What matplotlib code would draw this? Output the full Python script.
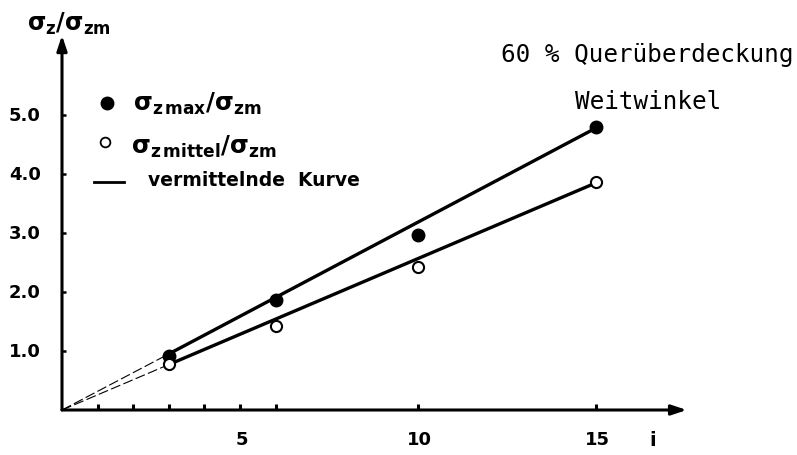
import numpy as np
import matplotlib
matplotlib.use("Agg")
import matplotlib.pyplot as plt

# measured points
i_pts = [3, 6, 10, 15]
ratio_max = [0.91, 1.87, 2.96, 4.80]
ratio_mittel = [0.78, 1.43, 2.43, 3.86]

# fitted lines (vermittelnde Kurve) at i = 0, 3, 15
i_fit = [0, 3, 15]
fit_max = [0.0, 0.95, 4.78]
fit_mittel = [0.0, 0.77, 3.85]

x_ticks = [1, 2, 3, 4, 5, 6, 10, 15]
x_labels = {5: "5", 10: "10", 15: "15"}
y_ticks = [1, 2, 3, 4, 5]
y_labels = ["1.0", "2.0", "3.0", "4.0", "5.0"]

plt.rcParams["mathtext.fontset"] = "dejavusans"

W, H = 797, 456
fig = plt.figure(figsize=(W / 100, H / 100), dpi=100)
x0, y0 = 62, 456 - 411          # origin in pixels
ux, uy = 35.6, 59.0             # pixels per unit
ax = fig.add_axes([x0 / W, y0 / H, (W - x0) / W, (H - y0) / H])
ax.set_xlim(0, (W - x0) / ux)
ax.set_ylim(0, (H - y0) / uy)
ax.axis("off")

lw = 2.2
# axes with arrows
ax.annotate("", xy=(17.55, 0), xytext=(0, 0),
            arrowprops=dict(arrowstyle="-|>,head_length=0.9,head_width=0.3", lw=lw, color="k", shrinkA=0, shrinkB=0))
ax.annotate("", xy=(0, 6.35), xytext=(0, 0),
            arrowprops=dict(arrowstyle="-|>,head_length=0.9,head_width=0.3", lw=lw, color="k", shrinkA=0, shrinkB=0))

for t in x_ticks:
    ax.plot([t, t], [-0.1, 0.1], color="k", lw=lw, solid_capstyle="butt")
    if t in x_labels:
        ax.text(t + 0.05, -0.5, x_labels[t], ha="center", va="center", fontsize=13, fontweight="bold")
ax.text(16.6, -0.5, "i", ha="center", va="center", fontsize=14, fontweight="bold")
for t, lab in zip(y_ticks, y_labels):
    ax.plot([-0.12, 0.12], [t, t], color="k", lw=1.8, solid_capstyle="butt")
    ax.text(-0.6, t, lab, ha="right", va="center", fontsize=13, fontweight="bold")

# fit lines: dashed near origin, solid over data
ax.plot(i_fit[:2], fit_max[:2], "k--", lw=0.8, dashes=(9, 3))
ax.plot(i_fit[:2], fit_mittel[:2], "k--", lw=0.8, dashes=(9, 3))
ax.plot(i_fit[1:], fit_max[1:], "k-", lw=2.4)
ax.plot(i_fit[1:], fit_mittel[1:], "k-", lw=2.4)

ax.plot(i_pts, ratio_max, "o", ms=9, mfc="k", mec="k", zorder=5)
ax.plot(i_pts, ratio_mittel, "o", ms=8, mfc="white", mec="k", mew=1.5, zorder=5)

# y-axis title
fig.text(27 / W, 1 - 24 / H, r"$\mathbf{\sigma_z/\sigma_{zm}}$", fontsize=17, va="center", ha="left")

# legend drawn by hand
ax.plot([1.26], [5.2], "o", ms=9, mfc="k", mec="k")
ax.text(2.0, 5.2, r"$\mathbf{\sigma_{z\,max}/\sigma_{zm}}$", fontsize=17.5, va="center")
ax.plot([1.2], [4.55], "o", ms=7, mfc="white", mec="k", mew=1.3)
ax.text(1.95, 4.48, r"$\mathbf{\sigma_{z\,mittel}/\sigma_{zm}}$", fontsize=17.5, va="center")
ax.plot([0.9, 1.75], [3.87, 3.87], "k-", lw=2)
ax.text(2.42, 3.9, "vermittelnde  Kurve", fontsize=13.5, fontweight="bold", va="center")

fig.text(501 / W, 1 - 55 / H, "60 % Querüberdeckung", fontsize=17.5,
         family="DejaVu Sans Mono", va="center", ha="left")
fig.text(575 / W, 1 - 102 / H, "Weitwinkel", fontsize=17.5,
         family="DejaVu Sans Mono", va="center", ha="left")

fig.savefig("out.png", dpi=100)
